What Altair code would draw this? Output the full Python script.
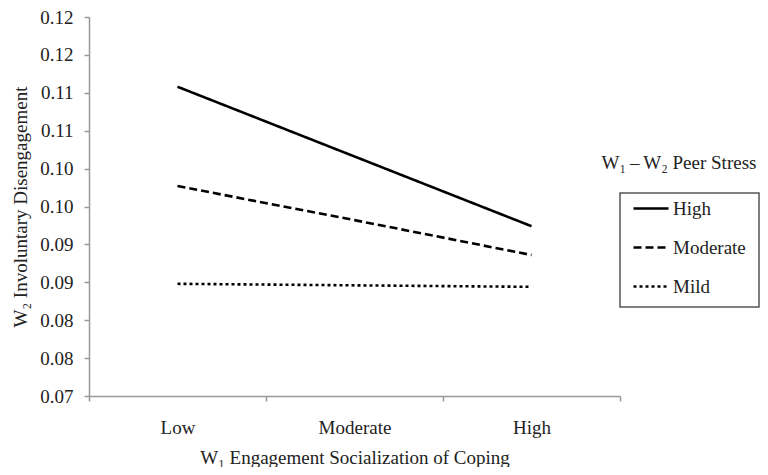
import altair as alt
import pandas as pd

# ---- data ----
x_levels = ["Low", "Moderate", "High"]
stress_levels = ["High", "Moderate", "Mild"]
high_vals = [0.1108, 0.1016, 0.0924]
moderate_vals = [0.0977, 0.0932, 0.0886]
mild_vals = [0.0848, 0.0846, 0.0844]
y_ticks = [0.070, 0.075, 0.080, 0.085, 0.090, 0.095, 0.100, 0.105, 0.110, 0.115, 0.120]

x_title = "W₁ Engagement Socialization of Coping"
y_title = "W₂ Involuntary Disengagement"
legend_title = "W₁\u2009–\u2009W₂ Peer Stress"

rows = []
for name, vals in zip(stress_levels, [high_vals, moderate_vals, mild_vals]):
    for lvl, v in zip(x_levels, vals):
        rows.append({"level": lvl, "stress": name, "value": v})
df = pd.DataFrame(rows)

FONT = "Liberation Serif"
FS = 19
W, H = 531, 379

lines = alt.Chart(df).mark_line(strokeWidth=2.6, color="black").encode(
    x=alt.X("level:N", sort=x_levels,
            scale=alt.Scale(paddingInner=0, paddingOuter=0),
            axis=alt.Axis(title=x_title, labelAngle=0, tickBand="extent",
                          labelFont=FONT, titleFont=FONT,
                          labelFontSize=FS, titleFontSize=FS,
                          labelBaseline="middle", labelPadding=26,
                          titleY=61, titleBaseline="middle")),
    y=alt.Y("value:Q",
            scale=alt.Scale(domain=[0.07, 0.12], nice=False, zero=False),
            axis=alt.Axis(title=y_title, values=y_ticks,
                          labelFont=FONT, titleFont=FONT,
                          labelFontSize=FS, titleFontSize=FS,
                          labelExpr="format(datum.value + 1e-9, '.2f')",
                          labelPadding=11, titleX=-69, titleY=H / 2,
                          titleAngle=-90, titleAlign="center",
                          titleBaseline="middle")),
    strokeDash=alt.StrokeDash("stress:N", sort=stress_levels,
                              scale=alt.Scale(domain=stress_levels,
                                              range=[[1, 0], [8, 4], [3, 3]]),
                              legend=alt.Legend(title=None, orient="none",
                                                legendX=543, legendY=172.5,
                                                padding=0, symbolSize=1225,
                                                symbolStrokeWidth=2.6,
                                                symbolStrokeColor="black",
                                                labelFontSize=FS, labelFont=FONT,
                                                labelColor="#222", labelOffset=3,
                                                rowPadding=10,
                                                symbolType="stroke")),
)

title_df = pd.DataFrame({"t": [legend_title]})
legend_head = alt.Chart(title_df).mark_text(
    font=FONT, fontSize=FS, color="#222", align="center", baseline="middle"
).encode(x=alt.value(590), y=alt.value(146), text="t:N")

box = alt.Chart(title_df).mark_rect(
    fill=None, fillOpacity=0, stroke="#555", strokeWidth=1.5
).encode(x=alt.value(531), x2=alt.value(670), y=alt.value(176), y2=alt.value(290))

chart = alt.layer(lines, box, legend_head).properties(
    width=W, height=H,
    autosize=alt.AutoSizeParams(type="none"),
    padding={"left": 81, "top": 9, "right": 140, "bottom": 71},
).configure_view(stroke=None).configure_axis(
    grid=False, labelFont=FONT, titleFont=FONT, labelFontSize=FS, titleFontSize=FS,
    labelColor="#222", titleColor="#222", titleFontWeight="normal",
    domainColor="#999", domainWidth=1.5, tickColor="#999", tickWidth=1.5, tickSize=5,
).configure_legend(labelFont=FONT)

chart.save("out.html", embed_options={"renderer": "svg", "actions": False})
